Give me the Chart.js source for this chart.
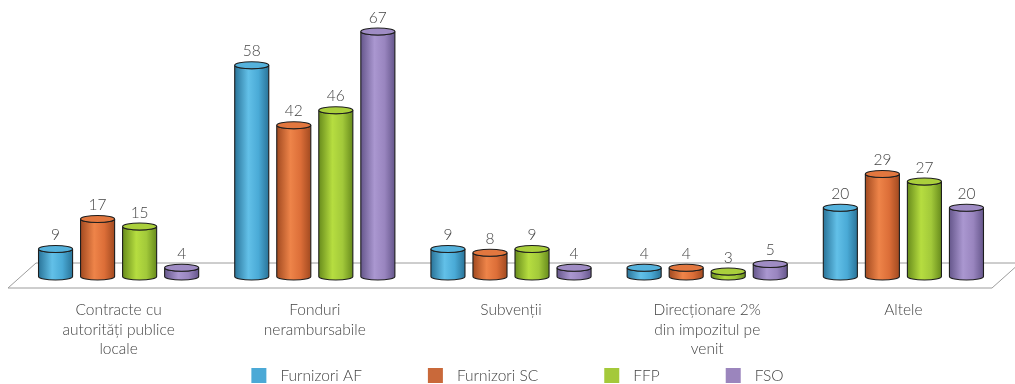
<!DOCTYPE html>
<html>
<head>
<meta charset="utf-8">
<script src="https://cdn.jsdelivr.net/npm/chart.js@4/dist/chart.umd.min.js"></script>
<style>
  html, body { margin: 0; padding: 0; background: #fff; }
</style>
</head>
<body>
<canvas id="chart" width="1015" height="384"></canvas>
<script>
// data
const categories = [
    ['Contracte cu', 'autorități publice', 'locale'],
    ['Fonduri', 'nerambursabile'],
    'Subvenții',
    ['Direcționare 2%', 'din impozitul pe', 'venit'],
    'Altele'
];
const seriesNames = ['Furnizori AF', 'Furnizori SC', 'FFP', 'FSO'];
const furnizoriAF = [9, 58, 9, 4, 20];
const furnizoriSC = [17, 42, 8, 4, 29];
const ffp = [15, 46, 9, 3, 27];
const fso = [4, 67, 4, 5, 20];

// base, dark edge, highlight, top cap
const palette = [
    { base: '#4aaad6', dark: '#2a7499', light: '#62c0e8', cap: '#55b2dc', legend: '#4ba9d6' },
    { base: '#dc6e38', dark: '#a24a20', light: '#ee8449', cap: '#e2773f', legend: '#c9693a' },
    { base: '#a2c93a', dark: '#688c1c', light: '#b6dd40', cap: '#aacf3c', legend: '#a4c93a' },
    { base: '#9985bf', dark: '#66578c', light: '#aa97d0', cap: '#9f8cc4', legend: '#9b85bd' }
];

const FONT = "'Lato', 'Open Sans', sans-serif";
const TEXT_COLOR = '#444444';

const cylinders = {
    id: 'cylinders',
    beforeDatasetsDraw(chart) {
        // the floor the bars stand on
        const ctx = chart.ctx;
        const area = chart.chartArea;
        const y0 = chart.scales.y.getPixelForValue(0);
        const back = y0 - 19.75, front = y0 + 5.25;
        ctx.save();
        ctx.strokeStyle = '#9c9c9c';
        ctx.lineWidth = 1;
        ctx.beginPath();
        ctx.moveTo(area.left + 15.5, back);
        ctx.lineTo(area.right + 18.5, back);
        ctx.lineTo(area.right - 9.5, front);
        ctx.lineTo(area.left - 12.5, front);
        ctx.closePath();
        ctx.stroke();
        ctx.restore();
    },
    afterDatasetsDraw(chart) {
        const ctx = chart.ctx;
        const y0 = chart.scales.y.getPixelForValue(0);
        const botY = y0 - 6.25;
        const ry = 3.5;
        ctx.save();
        chart.data.datasets.forEach((ds, i) => {
            const c = palette[i];
            chart.getDatasetMeta(i).data.forEach((bar, j) => {
                const cx = bar.x;
                const rx = bar.width / 2;
                const topY = bar.y;

                const grad = ctx.createLinearGradient(cx - rx, 0, cx + rx, 0);
                grad.addColorStop(0, c.dark);
                grad.addColorStop(0.4, c.light);
                grad.addColorStop(0.7, c.base);
                grad.addColorStop(1, c.dark);

                // body
                ctx.beginPath();
                ctx.moveTo(cx - rx, topY);
                ctx.lineTo(cx - rx, botY);
                ctx.ellipse(cx, botY, rx, ry, 0, Math.PI, 0, true);
                ctx.lineTo(cx + rx, topY);
                ctx.ellipse(cx, topY, rx, ry, 0, 0, Math.PI, false);
                ctx.closePath();
                ctx.fillStyle = grad;
                ctx.fill();
                ctx.strokeStyle = '#1e1e1e';
                ctx.lineWidth = 1.1;
                ctx.stroke();

                // top cap
                ctx.beginPath();
                ctx.ellipse(cx, topY, rx, ry, 0, 0, Math.PI * 2);
                ctx.fillStyle = c.cap;
                ctx.fill();
                ctx.stroke();

                // value label
                ctx.fillStyle = TEXT_COLOR;
                ctx.font = '300 15.5px ' + FONT;
                ctx.textAlign = 'center';
                ctx.textBaseline = 'middle';
                ctx.fillText(String(ds.data[j]), cx, topY - 14);
            });
        });
        ctx.restore();
    },
    afterDraw(chart) {
        // legend row along the bottom
        const ctx = chart.ctx;
        ctx.save();
        ctx.font = '300 15.5px ' + FONT;
        const box = 15, gapText = 14, gapItem = 66;
        const widths = chart.data.datasets.map(ds => ctx.measureText(ds.label).width);
        const total = widths.reduce((a, w) => a + box + gapText + w, 0) + gapItem * (widths.length - 1);
        let x = chart.width / 2 + 10 - total / 2;
        const yMid = 376;
        chart.data.datasets.forEach((ds, i) => {
            ctx.fillStyle = palette[i].legend;
            ctx.fillRect(x, yMid - 8, box, box);
            ctx.fillStyle = TEXT_COLOR;
            ctx.textAlign = 'left';
            ctx.textBaseline = 'middle';
            ctx.fillText(ds.label, x + box + gapText, yMid);
            x += box + gapText + widths[i] + gapItem;
        });
        ctx.restore();
    }
};

const seriesValues = [furnizoriAF, furnizoriSC, ffp, fso];

new Chart(document.getElementById('chart'), {
    type: 'bar',
    data: {
        labels: categories,
        datasets: seriesNames.map((name, i) => ({
            label: name,
            data: seriesValues[i],
            backgroundColor: 'rgba(0,0,0,0)',
            borderWidth: 0,
            categoryPercentage: 0.857,
            barPercentage: 0.81
        }))
    },
    options: {
        responsive: false,
        animation: false,
        devicePixelRatio: 1,
        layout: { padding: { left: 20.5, right: 13.5, top: 20.25, bottom: 25 } },
        plugins: {
            legend: { display: false },
            tooltip: { enabled: false }
        },
        scales: {
            x: {
                grid: { display: false, drawTicks: false },
                border: { display: false },
                ticks: {
                    padding: 17.5,
                    color: TEXT_COLOR,
                    font: { family: FONT, size: 15.5, weight: '300', lineHeight: 1.26 },
                    maxRotation: 0,
                    autoSkip: false
                },
                afterFit(scale) { scale.height = 76.25; }
            },
            y: {
                display: false,
                min: 0,
                max: 70
            }
        }
    },
    plugins: [cylinders]
});
</script>
</body>
</html>
